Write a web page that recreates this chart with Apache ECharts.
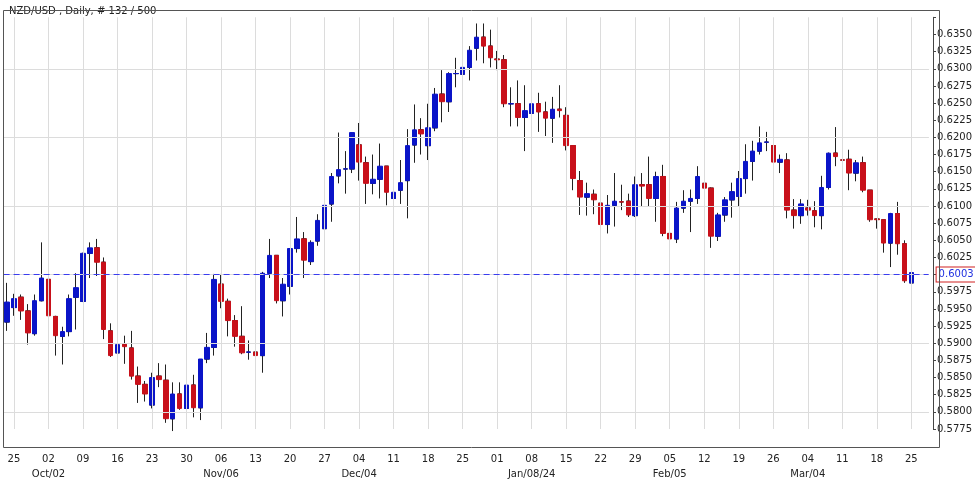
<!DOCTYPE html>
<html><head><meta charset="utf-8">
<script src="https://cdn.jsdelivr.net/npm/echarts@6/dist/echarts.min.js"></script>
<style>html,body{margin:0;padding:0;background:#fff}#c{width:975px;height:482px}</style>
</head><body><div id="c"></div>
<script>
const opens=[.5931,.5952,.5967,.5947,.5914,.5962,.5993,.5939,.5910,.5917,.5967,.5961,.6031,.6039,.6018,.5918,.5886,.5898,.5893,.5852,.5840,.5810,.5852,.5846,.5790,.5826,.5805,.5839,.5806,.5877,.5894,.5986,.5961,.5933,.5910,.5887,.5887,.5882,.6002,.6028,.5962,.5983,.6038,.6052,.6019,.6049,.6067,.6103,.6144,.6154,.6154,.6189,.6163,.6133,.6139,.6158,.6111,.6123,.6137,.6189,.6211,.6188,.6214,.6263,.6252,.6293,.6292,.6302,.6330,.6346,.6333,.6314,.6313,.6249,.6249,.6229,.6235,.6249,.6237,.6228,.6241,.6232,.6188,.6137,.6113,.6117,.6104,.6073,.6101,.6106,.6107,.6086,.6131,.6131,.6111,.6143,.6060,.6052,.6097,.6107,.6111,.6133,.6126,.6056,.6087,.6109,.6114,.6140,.6165,.6180,.6193,.6188,.6164,.6167,.6094,.6086,.6097,.6093,.6086,.6127,.6177,.6167,.6168,.6148,.6163,.6123,.6081,.6080,.6046,.6089,.6045,.5988];
const closes=[.5960,.5965,.5947,.5915,.5962,.5995,.5940,.5911,.5917,.5965,.5981,.6031,.6039,.6018,.5920,.5882,.5898,.5895,.5852,.5840,.5826,.5850,.5847,.5790,.5826,.5805,.5839,.5806,.5877,.5894,.5993,.5961,.5933,.5910,.5886,.5887,.5882,.6002,.6028,.5962,.5986,.6038,.6052,.6021,.6047,.6079,.6101,.6143,.6153,.6154,.6207,.6164,.6133,.6139,.6158,.6120,.6120,.6134,.6188,.6211,.6205,.6214,.6263,.6252,.6293,.6293,.6302,.6327,.6346,.6333,.6316,.6313,.6249,.6249,.6229,.6239,.6249,.6237,.6228,.6241,.6239,.6188,.6140,.6113,.6118,.6109,.6073,.6101,.6107,.6106,.6087,.6131,.6129,.6111,.6143,.6060,.6052,.6097,.6107,.6111,.6143,.6126,.6056,.6087,.6109,.6121,.6140,.6165,.6180,.6192,.6193,.6164,.6168,.6094,.6086,.6103,.6094,.6086,.6127,.6177,.6172,.6167,.6148,.6163,.6123,.6080,.6080,.6046,.6089,.6045,.5991,.6003];
const lows=[.5918,.5940,.5934,.5898,.5911,.5961,.5933,.5882,.5869,.5910,.5920,.5960,.5995,.5998,.5906,.5880,.5883,.5870,.5847,.5813,.5815,.5805,.5836,.5784,.5772,.5803,.5803,.5792,.5788,.5871,.5882,.5951,.5910,.5895,.5884,.5876,.5866,.5857,.5995,.5958,.5939,.5971,.6032,.5995,.6014,.6042,.6059,.6077,.6133,.6118,.6148,.6137,.6103,.6117,.6111,.6101,.6101,.6103,.6082,.6163,.6175,.6167,.6209,.6222,.6237,.6273,.6273,.6283,.6312,.6308,.6302,.6298,.6244,.6216,.6216,.6180,.6201,.6208,.6202,.6192,.6229,.6181,.6123,.6087,.6086,.6088,.6060,.6060,.6070,.6094,.6084,.6084,.6100,.6099,.6077,.6056,.6016,.6046,.6090,.6062,.6103,.6120,.6039,.6049,.6077,.6083,.6099,.6118,.6137,.6175,.6180,.6160,.6148,.6082,.6067,.6074,.6086,.6069,.6066,.6124,.6158,.6126,.6123,.6136,.6120,.6077,.6067,.6032,.6011,.6029,.5988,.5981];
const highs=[.5988,.5972,.5971,.5957,.5971,.6047,.6006,.5940,.5924,.5971,.6002,.6032,.6047,.6052,.6025,.5929,.5929,.5911,.5918,.5866,.5845,.5857,.5871,.5869,.5843,.5843,.5844,.5854,.5877,.5915,.6001,.6001,.5965,.5941,.5954,.5904,.5900,.6004,.6052,.6028,.5995,.6038,.6084,.6062,.6050,.6088,.6106,.6148,.6207,.6180,.6207,.6221,.6172,.6175,.6191,.6158,.6131,.6167,.6212,.6248,.6228,.6249,.6272,.6298,.6295,.6316,.6305,.6333,.6366,.6366,.6357,.6326,.6320,.6273,.6283,.6276,.6259,.6265,.6252,.6259,.6276,.6244,.6188,.6151,.6134,.6124,.6137,.6116,.6148,.6131,.6118,.6143,.6148,.6172,.6150,.6160,.6080,.6106,.6123,.6124,.6158,.6134,.6127,.6090,.6113,.6134,.6151,.6190,.6195,.6216,.6208,.6199,.6175,.6177,.6110,.6110,.6109,.6107,.6144,.6178,.6215,.6180,.6182,.6167,.6172,.6123,.6080,.6080,.6090,.6106,.6050,.6011];
const tickDays=['25','02','09','16','23','30','06','13','20','27','04','11','18','25','01','08','15','22','29','05','12','19','26','04','11','18','25'];
const tickMonths={1:'Oct/02',6:'Nov/06',10:'Dec/04',15:'Jan/08/24',19:'Feb/05',23:'Mar/04'};
const lastPrice=0.6003;
const N=134;
const cats=[];for(let i=0;i<N;i++)cats.push(String(i));
const body=[],wick=[];
for(let i=0;i<N;i++){
  if(i<opens.length){
    const o=opens[i],c=closes[i];
    body.push([o,c,Math.min(o,c),Math.max(o,c)]);
    wick.push([o,o,lows[i],highs[i]]);
  } else {body.push('-');wick.push('-');}
}
const tickIdx=tickDays.map((d,k)=>1+5*k);
const vlines=tickIdx.map(i=>({xAxis:String(i)}));
const chart=echarts.init(document.getElementById('c'));
chart.setOption({
  animation:false,
  backgroundColor:'#fff',
  title:{text:'NZD/USD , Daily, # 132 / 500',left:4,top:1,textStyle:{fontSize:10,fontWeight:'normal',color:'#222',fontFamily:'DejaVu Sans'}},
  grid:{left:3.6,right:39.6,top:17.3,bottom:39},
  xAxis:{type:'category',data:cats,boundaryGap:true,
    axisLine:{show:false},axisTick:{show:false},splitLine:{show:false},
    axisLabel:{interval:(i)=>(i-1)%5===0&&i<=131,margin:23,fontSize:10,color:'#222',fontFamily:'DejaVu Sans',lineHeight:15,
      formatter:(v,i)=>{const k=(i-1)/5;const m=tickMonths[k];return tickDays[k]+'\n'+(m||' ');}}},
  yAxis:{type:'value',position:'right',offset:4.4,min:0.5775,max:0.6375,interval:0.0025,
    axisLine:{show:true,lineStyle:{color:'#444'}},axisTick:{show:true,length:3,lineStyle:{color:'#444'}},
    splitLine:{show:false},
    axisLabel:{fontSize:10,color:'#222',fontFamily:'DejaVu Sans',margin:4,formatter:v=>v>0.636?'':v.toFixed(4)}},
  graphic:[{type:'rect',shape:{x:3.5,y:10.5,width:936,height:437},style:{fill:'none',stroke:'#555',lineWidth:1},silent:true,z:100}],
  series:[
    {type:'candlestick',data:wick,barWidth:5,clip:false,silent:true,
     itemStyle:{color:'#222',color0:'#222',borderColor:'#222',borderColor0:'#222',borderWidth:1},
     markLine:{silent:true,symbol:'none',animation:false,label:{show:false},lineStyle:{color:'#dcdcdc',type:'solid',width:1},
       data:vlines.concat([0.5775,0.58,0.5825,0.585,0.5875,0.59,0.5925,0.595,0.5975,0.6,0.6025,0.605,0.6075,0.61,0.6125,0.615,0.6175,0.62,0.6225,0.625,0.6275,0.63,0.6325,0.635].map(v=>({yAxis:v})))},z:2},
    {type:'candlestick',data:body,barWidth:5,clip:false,silent:true,
     itemStyle:{color:'#0a14c8',color0:'#c8101a',borderColor:'#0a14c8',borderColor0:'#c8101a',borderWidth:1},
     markLine:{silent:true,symbol:'none',animation:false,
       label:{show:true,position:'end',formatter:lastPrice.toFixed(4),color:'#2030e0',fontSize:10,fontFamily:'DejaVu Sans',backgroundColor:'#fff',borderColor:'#d02020',borderWidth:1,padding:[2,2],distance:8},
       data:[{yAxis:lastPrice,lineStyle:{color:'#3a3cf0',type:[6,4],width:1.2,opacity:1}}]},z:3}
  ]
});
</script></body></html>
